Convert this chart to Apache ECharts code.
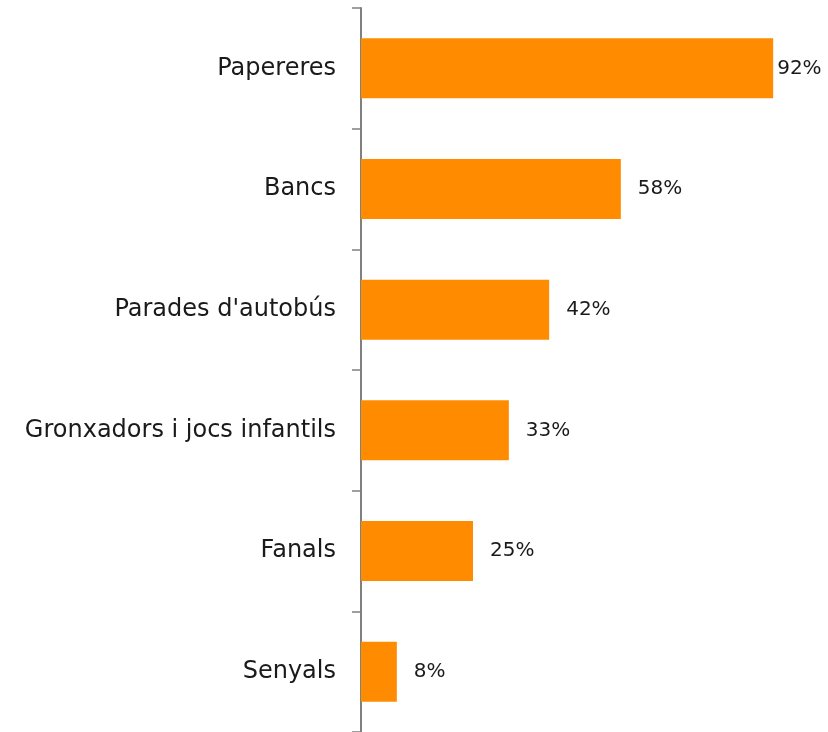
<!DOCTYPE html>
<html>
<head>
<meta charset="utf-8">
<script src="https://cdn.jsdelivr.net/npm/echarts@6/dist/echarts.min.js"></script>
<style>html,body{margin:0;padding:0;background:#fff;}#c{width:828px;height:732px;}</style>
</head>
<body>
<div id="c"></div>
<script>
const categories = ["Papereres", "Bancs", "Parades d'autobús", "Gronxadors i jocs infantils", "Fanals", "Senyals"];
const values = [92, 58, 42, 33, 25, 8];

const chart = echarts.init(document.getElementById('c'));
const font = "'DejaVu Sans', sans-serif";
chart.setOption({
  animation: false,
  grid: { left: 361, right: 19, top: 8, bottom: 0, containLabel: false },
  xAxis: { type: 'value', min: 0, max: 100, show: false },
  yAxis: {
    type: 'category',
    data: categories,
    inverse: true,
    axisLine: { show: true, lineStyle: { color: '#808080', width: 2 } },
    axisTick: { show: true, length: 9, lineStyle: { color: '#808080', width: 1.5 } },
    axisLabel: { color: '#1a1a1a', fontSize: 24, fontFamily: font, margin: 25 },
    splitLine: { show: false }
  },
  series: [{
    type: 'bar',
    data: values.map((v, i) => ({ value: v, label: { distance: i === 0 ? 4 : 17 } })),
    barWidth: 60,
    itemStyle: { color: '#FF8C00' },
    label: {
      show: true, position: 'right', formatter: '{c}%',
      color: '#1a1a1a', fontSize: 20, fontFamily: font
    }
  }]
});
</script>
</body>
</html>
